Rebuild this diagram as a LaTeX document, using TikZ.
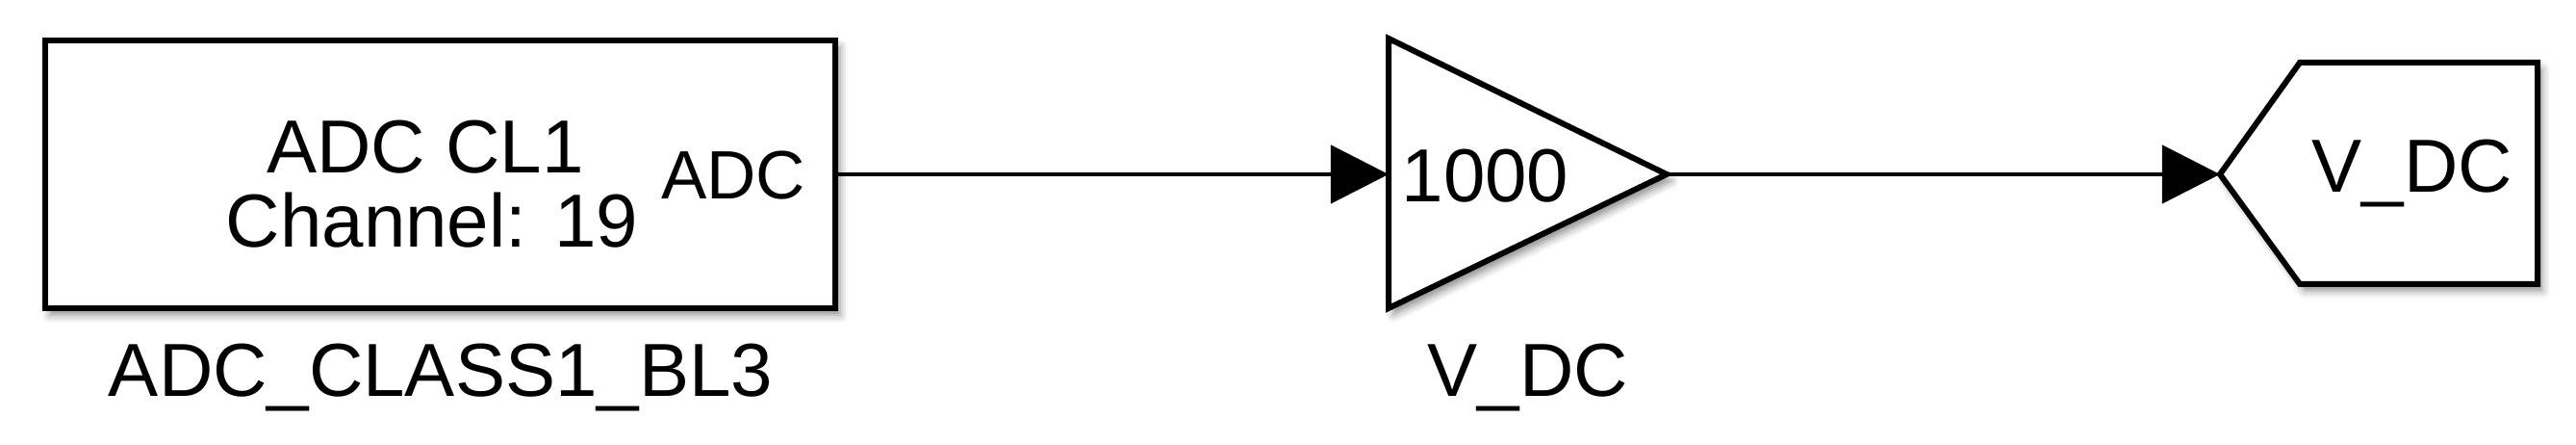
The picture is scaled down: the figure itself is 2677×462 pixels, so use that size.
\documentclass[tikz,border=0pt]{standalone}
\usepackage{fontspec}
\setmainfont{Liberation Sans}
\usetikzlibrary{arrows.meta,shadows.blur}
\begin{document}
\begin{tikzpicture}[x=0.01cm,y=-0.01cm,
  blk/.style={draw=black,line width=0.06cm,fill=white,line join=miter,
    blur shadow={shadow xshift=0.05cm,shadow yshift=-0.07cm,shadow blur radius=0.08cm,shadow opacity=45}},
  sig/.style={line width=0.045cm,-{Triangle[length=0.6cm,width=0.6cm,fill=black]}},
  txt/.style={inner sep=0pt,font=\fontsize{22.2}{26}\selectfont},
  ptxt/.style={inner sep=0pt,font=\fontsize{20.2}{24}\selectfont}]
\useasboundingbox (0,0) rectangle (2677,462);
% ADC block
\node[blk,minimum width=8.21cm,minimum height=2.78cm,inner sep=0pt,outer sep=0pt] (adc) at (457.5,181) {};
\node[txt,anchor=base] (t1) at (442,180) {ADC CL1};
\node[txt,anchor=base] (t2) at (449,257) {Channel: 19};
\node[ptxt,anchor=base east] (tp) at (838,207) {ADC};
\node[txt,anchor=base] (tl1) at (458,412) {ADC\_CLASS1\_BL3};
% Gain block
\draw[blk] (1443,40) -- (1732,181) -- (1443,320) -- cycle;
\coordinate (gin) at (1443,181);
\coordinate (gout) at (1732,181);
\node[txt,anchor=base west] (g) at (1456,210) {1000};
\node[txt,anchor=base] (tl2) at (1588,412) {V\_DC};
% Goto block
\draw[blk] (2307,181) -- (2390,65) -- (2637,65) -- (2637,295) -- (2390,295) -- cycle;
\coordinate (goin) at (2307,181);
\node[txt,anchor=base] (go) at (2507,200) {V\_DC};
% connectors
\draw[sig] (adc.east) -- (gin);
\draw[sig] (gout) -- (goin);
\end{tikzpicture}
\end{document}
